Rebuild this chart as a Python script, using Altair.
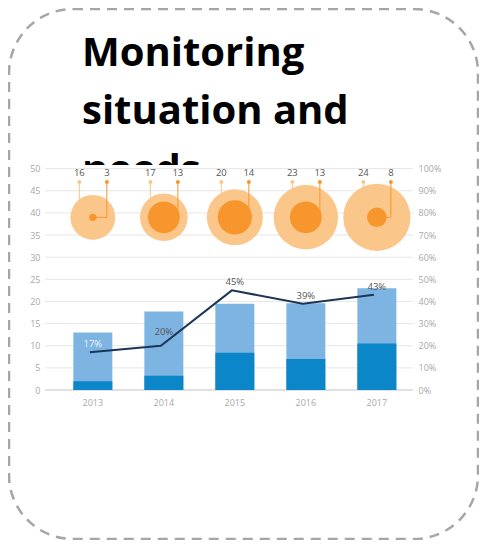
import altair as alt
import pandas as pd

# ---- data ----
years = ["2013", "2014", "2015", "2016", "2017"]
bar_total = [13.0, 17.7, 19.5, 19.6, 23.0]
bar_lower = [2.0, 3.2, 8.4, 7.0, 10.5]
line_pct = [17, 20, 45, 39, 43]
pct_text = ["17%", "20%", "45%", "39%", "43%"]
bubble_outer = [16, 17, 20, 23, 24]
bubble_inner = [3, 13, 14, 13, 8]
left_ticks = [0, 5, 10, 15, 20, 25, 30, 35, 40, 45, 50]
right_ticks = [0, 10, 20, 30, 40, 50, 60, 70, 80, 90, 100]
title_lines = ["Monitoring", "situation and", "needs"]

df = pd.DataFrame({
    "year": years, "total": bar_total, "lower": bar_lower,
    "pct": line_pct, "lab": pct_text,
    "outer": bubble_outer, "inner": bubble_inner,
})
ticks_df = pd.DataFrame({"v": left_ticks})
one = pd.DataFrame({"k": [0]})

LIGHT_BLUE = "#7db4e2"
DARK_BLUE = "#0a86c9"
LIGHT_OR = "#fbc68a"
DARK_OR = "#f7962d"
NAVY = "#1c3557"
LABEL = "#555555"
AXIS_LAB = "#a8a8a8"
FONT = "Open Sans"

yL = alt.Scale(domain=[0, 50], nice=False, zero=True)
yR = alt.Scale(domain=[0, 100], nice=False, zero=True)
axL = alt.Axis(values=left_ticks, title=None, ticks=False, domain=False, grid=False,
               labelOverlap=False, labelPadding=5, labelColor=AXIS_LAB, labelFontSize=9,
               labelFont=FONT)
axR = alt.Axis(orient="right", values=right_ticks, title=None, ticks=False, domain=False,
               grid=False, labelOverlap=False, labelPadding=5, labelColor=AXIS_LAB,
               labelFontSize=9, labelFont=FONT, labelExpr="datum.value + '%'")
X = alt.X("year:N", title=None,
          scale=alt.Scale(paddingInner=0.451, paddingOuter=0.317, align=0.63),
          axis=alt.Axis(labelAngle=0, ticks=False, domain=False, grid=False, labelPadding=8,
                        labelColor=AXIS_LAB, labelFontSize=9, labelFont=FONT))

ROW = 39      # bubble row (left-axis units)
LAB_Y = 47    # label-dot row (left-axis units)


def yd(v):
    return alt.YDatum(v, scale=yL, axis=axL)


border = alt.Chart(one).mark_rect(
    cornerRadius=64, fillOpacity=0, stroke="#a6a6a6", strokeWidth=2.5, strokeDash=[10, 7]
).encode(x=alt.value(-36), x2=alt.value(433), y=alt.value(-159.6), y2=alt.value(370.4))

title = alt.Chart(one).mark_text(
    text=title_lines, lineHeight=58.6, align="left", baseline="alphabetic",
    font=FONT, fontWeight="bold", fontSize=40, color="black"
).encode(x=alt.value(37), y=alt.value(-102.9))

white = alt.Chart(one).mark_rect(color="white").encode(
    x=alt.value(33), x2=alt.value(180), y=alt.value(-3.6), y2=alt.value(20))

grid = alt.Chart(ticks_df).mark_rule(strokeWidth=1).encode(
    y=alt.Y("v:Q", scale=yL, axis=axL),
    color=alt.condition(alt.datum.v == 0, alt.value("#c4c4c4"), alt.value("#e6e6e6")),
)

base = alt.Chart(df)
bars_total = base.mark_bar(color=LIGHT_BLUE).encode(x=X, y=alt.Y("total:Q", scale=yL, axis=axL))
bars_lower = base.mark_bar(color=DARK_BLUE).encode(x=X, y=alt.Y("lower:Q", scale=yL, axis=axL))

outer_conn = base.mark_rule(color=LIGHT_OR, strokeWidth=1, xOffset=-13.5).encode(
    x=X, y=yd(LAB_Y), y2=alt.datum(ROW))
outer_circle = base.mark_circle(color=LIGHT_OR, opacity=1).encode(
    x=X, y=yd(ROW),
    size=alt.Size("outer:Q", legend=None,
                  scale=alt.Scale(type="pow", exponent=2, domain=[0, 24], range=[0, 4516])))
inner_conn_v = base.mark_rule(color=DARK_OR, strokeWidth=1, xOffset=14).encode(
    x=X, y=yd(LAB_Y), y2=alt.datum(ROW))
inner_conn_h = base.mark_rule(color=DARK_OR, strokeWidth=1, x2Offset=14).encode(
    x=X, x2="year:N", y=yd(ROW))
inner_circle = base.mark_circle(color=DARK_OR, opacity=1).encode(
    x=X, y=yd(ROW),
    size=alt.Size("inner:Q", legend=None,
                  scale=alt.Scale(type="pow", exponent=2, domain=[0, 14], range=[0, 1176])))
dot_outer = base.mark_circle(color=LIGHT_OR, opacity=1, size=16, xOffset=-13.5).encode(
    x=X, y=yd(LAB_Y))
dot_inner = base.mark_circle(color=DARK_OR, opacity=1, size=16, xOffset=14).encode(
    x=X, y=yd(LAB_Y))
lab_outer = base.mark_text(dx=-13.5, dy=-4, baseline="bottom", fontSize=9.5, font=FONT,
                           color=LABEL).encode(x=X, y=yd(LAB_Y), text="outer:Q")
lab_inner = base.mark_text(dx=14, dy=-4, baseline="bottom", fontSize=9.5, font=FONT,
                           color=LABEL).encode(x=X, y=yd(LAB_Y), text="inner:Q")

left = alt.layer(
    border, title, white, grid, bars_total, bars_lower,
    outer_conn, outer_circle, inner_conn_v, inner_conn_h, inner_circle,
    dot_outer, dot_inner, lab_outer, lab_inner,
).resolve_scale(size="independent")

line = base.mark_line(color=NAVY, strokeWidth=2, xOffset=-3).encode(
    x=X, y=alt.Y("pct:Q", scale=yR, axis=axR))
pct_enc = dict(
    x=X, y=alt.Y("pct:Q", scale=yR, axis=axR), text="lab:N",
    color=alt.condition(alt.datum.year == "2013", alt.value("#eef4fb"), alt.value(LABEL)))
pct_main = base.mark_text(fontSize=9.5, font=FONT, dy=-8).encode(**pct_enc).transform_filter(
    alt.datum.year != "2014")
pct_2014 = base.mark_text(fontSize=9.5, font=FONT, dy=-14).encode(**pct_enc).transform_filter(
    alt.datum.year == "2014")
right = alt.layer(line, pct_main, pct_2014)

chart = alt.layer(left, right).resolve_scale(y="independent").properties(
    width=368, height=221.4,
    autosize=alt.AutoSizeParams(type="none"),
    padding={"left": 37, "top": 160.6, "right": 66, "bottom": 150},
    background="white",
).configure_view(stroke="transparent")

chart.save("out.html", embed_options={"renderer": "svg", "actions": False})
